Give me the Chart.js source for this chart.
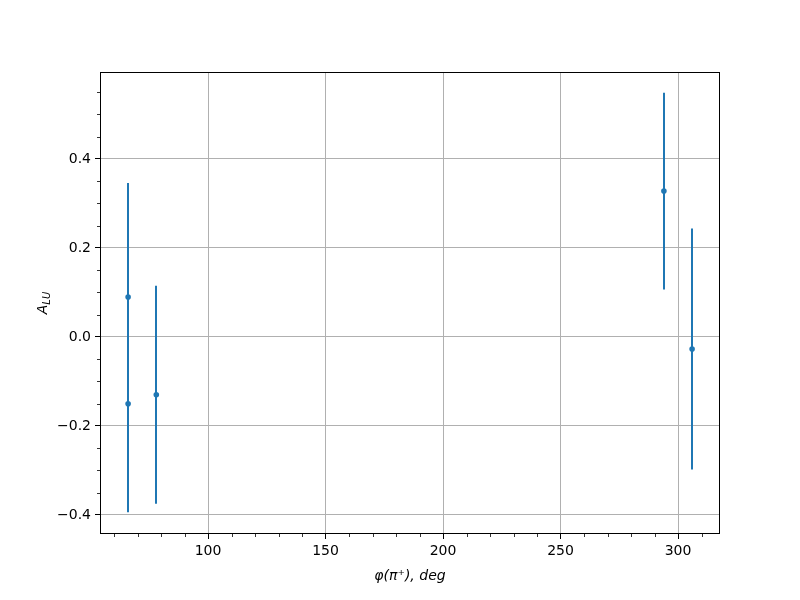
<!DOCTYPE html>
<html>
<head>
<meta charset="utf-8">
<script src="https://cdn.jsdelivr.net/npm/chart.js@4"></script>
<style>
  body { margin: 0; background: #fff; }
</style>
</head>
<body>
<canvas id="myChart" width="800" height="600"></canvas>
<script>
// phi of the pi+ (deg), asymmetry and its error
var phi = [66, 66, 78, 294, 306];
var alu = [0.09, -0.15, -0.13, 0.328, -0.027];
var aluErr = [0.256, 0.244, 0.245, 0.221, 0.271];

var xTicks = [100, 150, 200, 250, 300];
var yTicks = [-0.4, -0.2, 0.0, 0.2, 0.4];
var xMinor = [60, 70, 80, 90, 110, 120, 130, 140, 160, 170, 180, 190, 210, 220, 230, 240, 260, 270, 280, 290, 310];
var yMinor = [-0.35, -0.3, -0.25, -0.15, -0.1, -0.05, 0.05, 0.1, 0.15, 0.25, 0.3, 0.35, 0.45, 0.5, 0.55];

var blue = '#1f77b4';
var points = phi.map(function (p, i) { return { x: p, y: alu[i] }; });

var extras = {
  id: 'extras',
  beforeDatasetsDraw: function (chart) {
    var ctx = chart.ctx, xs = chart.scales.x, ys = chart.scales.y;
    ctx.save();
    ctx.strokeStyle = blue;
    ctx.lineWidth = 2;
    for (var i = 0; i < phi.length; i++) {
      var px = Math.round(xs.getPixelForValue(phi[i]));
      ctx.beginPath();
      ctx.moveTo(px, ys.getPixelForValue(alu[i] - aluErr[i]));
      ctx.lineTo(px, ys.getPixelForValue(alu[i] + aluErr[i]));
      ctx.stroke();
    }
    ctx.restore();
  },
  afterDraw: function (chart) {
    var ctx = chart.ctx, a = chart.chartArea, xs = chart.scales.x, ys = chart.scales.y;
    ctx.save();
    // minor ticks
    ctx.strokeStyle = '#000';
    ctx.lineWidth = 0.8;
    ctx.beginPath();
    xMinor.forEach(function (v) {
      var px = Math.round(xs.getPixelForValue(v)) + 0.5;
      ctx.moveTo(px, a.bottom);
      ctx.lineTo(px, a.bottom + 3);
    });
    yMinor.forEach(function (v) {
      var py = Math.round(ys.getPixelForValue(v)) + 0.5;
      ctx.moveTo(a.left, py);
      ctx.lineTo(a.left - 3, py);
    });
    ctx.stroke();
    // frame
    ctx.lineWidth = 1;
    ctx.strokeRect(a.left + 0.5, a.top + 0.5, a.right - a.left - 1, a.bottom - a.top - 1);
    // axis titles
    ctx.fillStyle = '#000';
    ctx.textBaseline = 'alphabetic';
    ctx.font = 'italic 14px "DejaVu Sans"';
    ctx.textAlign = 'center';
    ctx.fillText('\u03c6(\u03c0\u207a), deg', (a.left + a.right) / 2, 580);
    ctx.translate(47, (a.top + a.bottom) / 2);
    ctx.rotate(-Math.PI / 2);
    ctx.textAlign = 'left';
    var w1 = ctx.measureText('A').width;
    ctx.font = 'italic 10px "DejaVu Sans"';
    var w2 = ctx.measureText('LU').width;
    var start = -(w1 + w2) / 2;
    ctx.font = 'italic 14px "DejaVu Sans"';
    ctx.fillText('A', start, 0);
    ctx.font = 'italic 10px "DejaVu Sans"';
    ctx.fillText('LU', start + w1, 3);
    ctx.restore();
  }
};

new Chart('myChart', {
  type: 'scatter',
  data: {
    datasets: [{
      data: points,
      backgroundColor: blue,
      borderColor: blue,
      pointRadius: 2.8,
      pointHoverRadius: 2.8,
      borderWidth: 0
    }]
  },
  options: {
    responsive: false,
    animation: false,
    devicePixelRatio: 1,
    layout: { padding: { top: 72, right: 80, left: 0, bottom: 0 } },
    plugins: { legend: { display: false }, tooltip: { enabled: false } },
    scales: {
      x: {
        type: 'linear',
        min: 54.04,
        max: 317.87,
        afterFit: function (s) { s.height = 66; },
        afterBuildTicks: function (s) { s.ticks = xTicks.map(function (v) { return { value: v }; }); },
        grid: { color: '#b0b0b0', lineWidth: 1, tickColor: '#000', tickLength: 5, drawOnChartArea: true },
        border: { display: false },
        ticks: {
          color: '#000',
          padding: 4,
          maxRotation: 0,
          font: { family: 'DejaVu Sans', size: 14 },
          callback: function (v) { return String(v); }
        }
      },
      y: {
        type: 'linear',
        min: -0.4427,
        max: 0.5955,
        afterFit: function (s) { s.width = 100; },
        afterBuildTicks: function (s) { s.ticks = yTicks.map(function (v) { return { value: v }; }); },
        grid: { color: '#b0b0b0', lineWidth: 1, tickColor: '#000', tickLength: 5 },
        border: { display: false },
        ticks: {
          color: '#000',
          padding: 4,
          font: { family: 'DejaVu Sans', size: 14 },
          callback: function (v) { return v.toFixed(1).replace('-', '\u2212'); }
        }
      }
    }
  },
  plugins: [extras]
});
</script>
</body>
</html>
